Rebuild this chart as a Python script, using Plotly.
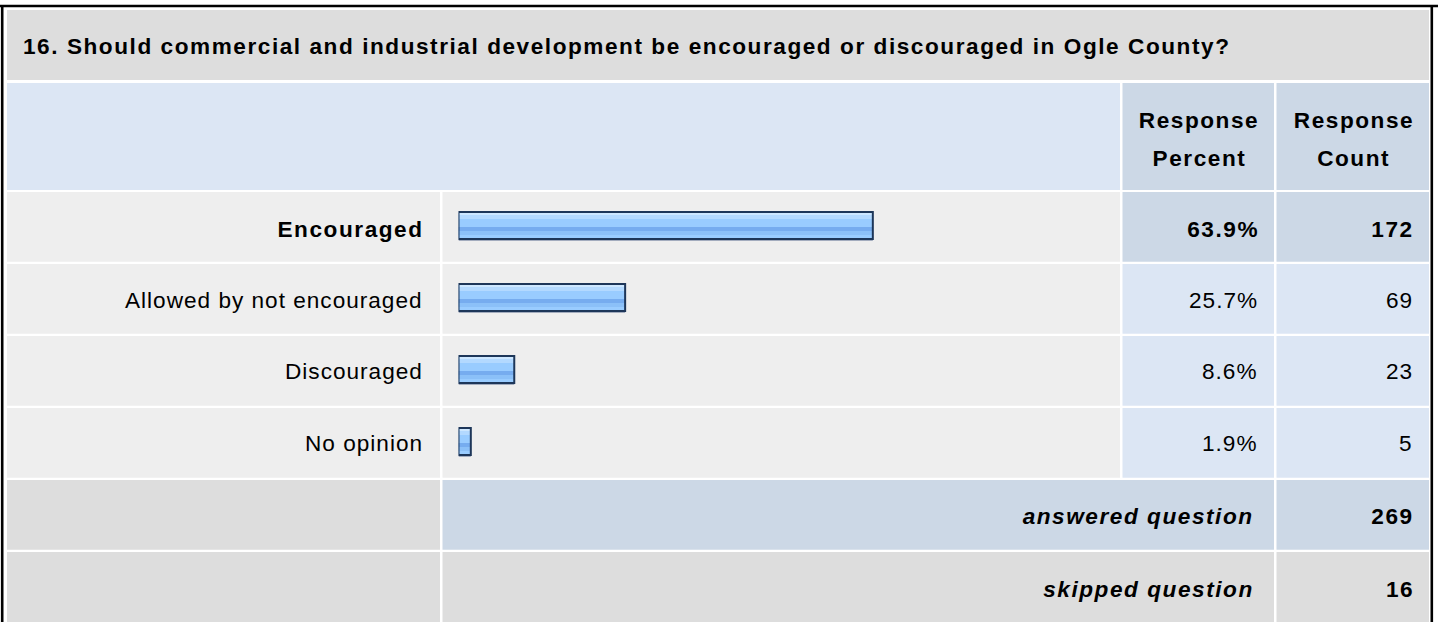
import plotly.graph_objects as go

# --------------------------------------------
# Data
# --------------------------------------------
question = "16. Should commercial and industrial development be encouraged or discouraged in Ogle County?"
answers = ["Encouraged", "Allowed by not encouraged", "Discouraged", "No opinion"]
percents = [63.9, 25.7, 8.6, 1.9]
counts = [172, 69, 23, 5]
header_pct = ["Response", "Percent"]
header_cnt = ["Response", "Count"]
answered_label = "answered question"
skipped_label = "skipped question"
answered = 269
skipped = 16

# --------------------------------------------
# Page geometry (pixels)
# --------------------------------------------
W, H = 1438, 622
ROW = 72.0            # pixel pitch of answer rows
BASE = -0.85          # bars start a few pixels left of zero
PX_PER_PCT = 6.484
BAR_LEFT = 458.5
FONT = "Liberation Sans, Arial, sans-serif"
FSIZE = 22.6
SP_BOLD, SP_REG = 1.55, 1.0  # letter spacing applied after render

LIGHT_BLUE = "#DCE6F4"
MID_BLUE = "#CCD8E6"
GREY = "#DDDDDD"
LIGHT_GREY = "#EEEEEE"


def px(x):
    return x / W


def py(y):
    return 1 - y / H


fig = go.Figure()


def cell(x0, x1, y0, y1, color):
    fig.add_shape(type="rect", xref="paper", yref="paper",
                  x0=px(x0), x1=px(x1), y0=py(y1), y1=py(y0),
                  fillcolor=color, line_width=0, layer="below")


def text(x, y, s, anchor, bold=False, italic=False):
    sp = SP_BOLD if bold else SP_REG
    # letter spacing pushes a trailing gap after the last glyph
    if anchor == "right":
        x += sp
    elif anchor == "center":
        x += sp / 2
    fig.add_annotation(xref="paper", yref="paper", x=px(x), y=py(y), text=s,
                       showarrow=False, xanchor=anchor, yanchor="middle", align=anchor,
                       borderpad=0, borderwidth=0,
                       font=dict(family=FONT, size=FSIZE, color="#000000",
                                 weight="bold" if bold else "normal",
                                 style="italic" if italic else "normal"))


# column edges
LAB = (7, 440)
BAR = (442.5, 1120)
PCT = (1122.5, 1274)
CNT = (1276.5, 1429)

# title + header
cell(7, 1429, 10, 80, GREY)
cell(LAB[0], BAR[1], 83, 190, LIGHT_BLUE)
cell(PCT[0], PCT[1], 83, 190, MID_BLUE)
cell(CNT[0], CNT[1], 83, 190, MID_BLUE)
text(23, 46.5, question, "left", bold=True)
for i, (a, b) in enumerate([PCT, CNT]):
    lines = header_pct if i == 0 else header_cnt
    text((a + b) / 2, 120.5, lines[0], "center", bold=True)
    text((a + b) / 2, 158, lines[1], "center", bold=True)

# answer rows
top_pct = percents.index(max(percents))
text_y = [229.5, 300, 371.5, 443]
for i, ans in enumerate(answers):
    y0 = 192 + i * ROW
    y1 = y0 + ROW - 2.3
    val_col = MID_BLUE if i == top_pct else LIGHT_BLUE
    cell(LAB[0], LAB[1], y0, y1, LIGHT_GREY)
    cell(BAR[0], BAR[1], y0, y1, LIGHT_GREY)
    cell(PCT[0], PCT[1], y0, y1, val_col)
    cell(CNT[0], CNT[1], y0, y1, val_col)
    bold = i == top_pct
    text(422, text_y[i], ans, "right", bold=bold)
    text(1257, text_y[i], f"{percents[i]:.1f}%", "right", bold=bold)
    text(1412, text_y[i], str(counts[i]), "right", bold=bold)

# totals
ya0, ya1 = 480, 549.7
cell(LAB[0], LAB[1], ya0, ya1, GREY)
cell(BAR[0], PCT[1], ya0, ya1, MID_BLUE)
cell(CNT[0], CNT[1], ya0, ya1, MID_BLUE)
text(1252, 516.5, answered_label, "right", bold=True, italic=True)
text(1412, 516.5, str(answered), "right", bold=True)

ys0, ys1 = 552, 700
cell(LAB[0], LAB[1], ys0, ys1, GREY)
cell(BAR[0], PCT[1], ys0, ys1, GREY)
cell(CNT[0], CNT[1], ys0, ys1, GREY)
text(1252, 589, skipped_label, "right", bold=True, italic=True)
text(1412, 589, str(skipped), "right", bold=True)

# outer frame
for x0, y0, x1, y1 in [(2.2, 6, 2.2, 700), (0, 6, 1438, 6), (1431.8, 6, 1431.8, 700)]:
    fig.add_shape(type="line", xref="paper", yref="paper",
                  x0=px(x0), x1=px(x1), y0=py(y0), y1=py(y1),
                  line=dict(color="#000000", width=2.6))

# --------------------------------------------
# Bars: glossy stripes stacked over one another
# --------------------------------------------
ypos = list(range(len(answers)))
stripes = [  # (top, bottom) in pixels from the row centre, colour
    (-13, 15, "#A3ACBE"),   # drop shadow
    (-14, 13, "#99CCFF"),
    (-13, -11, "#CDE7FF"),
    (-11, -7, "#B3D9FF"),
    (1, 5, "#76ACEF"),
    (5, 9, "#8BC0F8"),
]
for top, bot, col in stripes:
    fig.add_trace(go.Bar(x=percents, y=ypos, orientation="h", base=BASE,
                         offset=top / ROW, width=(bot - top) / ROW,
                         marker=dict(color=col, line_width=0),
                         hoverinfo="skip", showlegend=False))
fig.add_trace(go.Bar(x=percents, y=ypos, orientation="h", base=BASE,
                     offset=-14 / ROW, width=27 / ROW,
                     marker=dict(color="rgba(0,0,0,0)",
                                 line=dict(color="#1D3659", width=2)),
                     hovertext=[f"{a}: {p}%" for a, p in zip(answers, percents)],
                     hoverinfo="text", showlegend=False))

fig.update_layout(
    width=W, height=H,
    margin=dict(l=0, r=0, t=0, b=0),
    paper_bgcolor="#FFFFFF", plot_bgcolor="rgba(0,0,0,0)",
    barmode="overlay",
    xaxis=dict(domain=[px(BAR_LEFT), px(BAR_LEFT + (100 - BASE) * PX_PER_PCT)],
               range=[BASE, 100], visible=False, fixedrange=True),
    yaxis=dict(domain=[py(478), py(190)], range=[3.5, -0.5],
               visible=False, fixedrange=True),
)

# page margin off, and the wide letter spacing of the original table text
page_js = """
document.body.style.margin = '0';
document.getElementById('{plot_id}').querySelectorAll('.annotation-text').forEach(function(t){
  var w = parseInt(window.getComputedStyle(t).fontWeight) || 400;
  t.style.letterSpacing = (w >= 600 ? '%spx' : '%spx');
});
""" % (SP_BOLD, SP_REG)

fig.write_html("out.html", post_script=page_js, config={"displayModeBar": False})
